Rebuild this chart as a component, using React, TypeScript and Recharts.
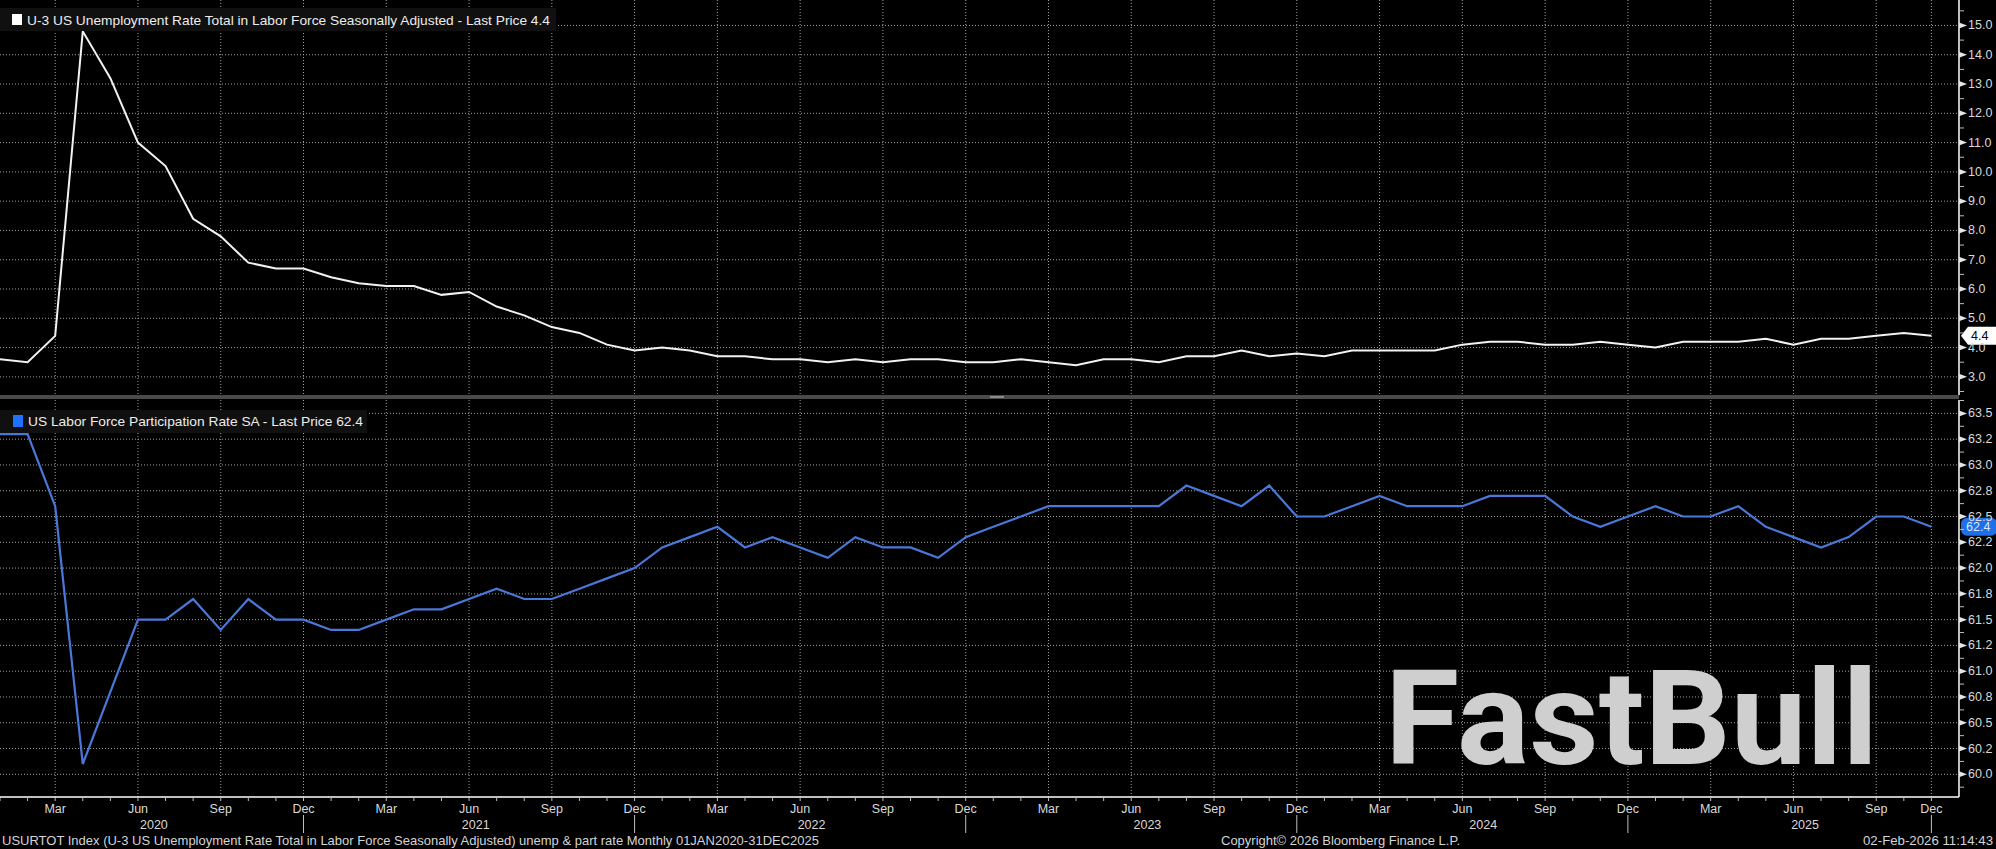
import React from 'react';
import { LineChart, Line, XAxis, YAxis, CartesianGrid, ReferenceLine } from 'recharts';

const monthNames = ['Jan', 'Feb', 'Mar', 'Apr', 'May', 'Jun', 'Jul', 'Aug', 'Sep', 'Oct', 'Nov', 'Dec'];
const years = [2020, 2021, 2022, 2023, 2024, 2025];
// Oct 2025 was never published, the observation axis just skips it
const missingPeriods = ['Oct 2025'];

const periods = years
  .flatMap((y) => monthNames.map((m) => `${m} ${y}`))
  .filter((p) => !missingPeriods.includes(p));

// U-3 unemployment rate, %
const unempRate = [
  3.6, 3.5, 4.4, 14.8, 13.2, 11.0, 10.2, 8.4, 7.8, 6.9, 6.7, 6.7,
  6.4, 6.2, 6.1, 6.1, 5.8, 5.9, 5.4, 5.1, 4.7, 4.5, 4.1, 3.9,
  4.0, 3.9, 3.7, 3.7, 3.6, 3.6, 3.5, 3.6, 3.5, 3.6, 3.6, 3.5,
  3.5, 3.6, 3.5, 3.4, 3.6, 3.6, 3.5, 3.7, 3.7, 3.9, 3.7, 3.8,
  3.7, 3.9, 3.9, 3.9, 3.9, 4.1, 4.2, 4.2, 4.1, 4.1, 4.2, 4.1,
  4.0, 4.2, 4.2, 4.2, 4.3, 4.1, 4.3, 4.3, 4.4, 4.5, 4.4,
];

// labor force participation rate, %
const partRate = [
  63.3, 63.3, 62.6, 60.1, 60.8, 61.5, 61.5, 61.7, 61.4, 61.7, 61.5, 61.5,
  61.4, 61.4, 61.5, 61.6, 61.6, 61.7, 61.8, 61.7, 61.7, 61.8, 61.9, 62.0,
  62.2, 62.3, 62.4, 62.2, 62.3, 62.2, 62.1, 62.3, 62.2, 62.2, 62.1, 62.3,
  62.4, 62.5, 62.6, 62.6, 62.6, 62.6, 62.6, 62.8, 62.7, 62.6, 62.8, 62.5,
  62.5, 62.6, 62.7, 62.6, 62.6, 62.6, 62.7, 62.7, 62.7, 62.5, 62.4, 62.5,
  62.6, 62.5, 62.5, 62.6, 62.4, 62.3, 62.2, 62.3, 62.5, 62.5, 62.4,
];

const unempTicks = [3, 4, 5, 6, 7, 8, 9, 10, 11, 12, 13, 14, 15];
const unempTickLabels = ['3.0', '4.0', '5.0', '6.0', '7.0', '8.0', '9.0', '10.0', '11.0', '12.0', '13.0', '14.0', '15.0'];
const partTicks = [60, 60.25, 60.5, 60.75, 61, 61.25, 61.5, 61.75, 62, 62.25, 62.5, 62.75, 63, 63.25, 63.5];
const partTickLabels = ['60.0', '60.2', '60.5', '60.8', '61.0', '61.2', '61.5', '61.8', '62.0', '62.2', '62.5', '62.8', '63.0', '63.2', '63.5'];

const data = periods.map((p, i) => ({ i, period: p, unemp: unempRate[i], part: partRate[i] }));

const quarterIdx = periods.map((p, i) => (['Mar', 'Jun', 'Sep', 'Dec'].includes(p.slice(0, 3)) ? i : -1)).filter((i) => i >= 0);
const decIdx = periods.map((p, i) => (p.startsWith('Dec') ? i : -1)).filter((i) => i >= 0);
const yearPos = years.map((_, k) => ((k === 0 ? 0 : decIdx[k - 1]) + decIdx[k]) / 2);
const monthIdx = periods.map((_, i) => i);

const halfSteps = (ticks: number[]) => {
  const step = ticks[1] - ticks[0];
  return [ticks[0] - step / 2, ...ticks.map((t) => t + step / 2)];
};

const FONT = "'Liberation Sans', Arial, sans-serif";
const AXIS_W = 37;
const X_DOMAIN = [0, periods.length];

function PriceTick({ x, y, payload, majors, labels }: any) {
  const k = majors.indexOf(payload.value);
  if (k < 0) {
    return <line x1={x} y1={y} x2={x + 5} y2={y} stroke="#bdbdbd" strokeWidth={1} />;
  }
  return (
    <g>
      <polygon points={`${x},${y - 3} ${x + 8},${y} ${x},${y + 3}`} fill="#e6e6e6" />
      <text x={x + 9} y={y} dominantBaseline="central" fontSize={12.5} fill="#d9d9d9" fontFamily={FONT}>
        {labels[k]}
      </text>
    </g>
  );
}

function MonthTick({ x, y, payload }: any) {
  const p = periods[payload.value] || '';
  const m = p.slice(0, 3);
  const showLabel = ['Mar', 'Jun', 'Sep', 'Dec'].includes(m);
  return (
    <g>
      <line x1={x} y1={y} x2={x} y2={y + 4} stroke="#bdbdbd" strokeWidth={1} />
      {showLabel && (
        <text x={x} y={y + 12} textAnchor="middle" dominantBaseline="central" fontSize={12.5} fill="#d9d9d9" fontFamily={FONT}>
          {m}
        </text>
      )}
      {m === 'Dec' && <line x1={x} y1={y + 18} x2={x} y2={y + 36} stroke="#bdbdbd" strokeWidth={1} />}
    </g>
  );
}

function YearTick({ x, y, payload }: any) {
  const k = yearPos.indexOf(payload.value);
  return (
    <text x={x} y={y + 8} textAnchor="middle" dominantBaseline="central" fontSize={12.5} fill="#d9d9d9" fontFamily={FONT}>
      {years[k]}
    </text>
  );
}

function LastTag({ viewBox, text, bg, fg, pointed }: any) {
  const x = viewBox.x + viewBox.width + 2;
  const y = viewBox.y;
  return (
    <g>
      {pointed ? (
        <polygon points={`${x},${y} ${x + 7},${y - 9} ${x + 35},${y - 9} ${x + 35},${y + 9} ${x + 7},${y + 9}`} fill={bg} />
      ) : (
        <rect x={x} y={y - 9} width={36} height={18} rx={6} fill={bg} />
      )}
      <text x={x + (pointed ? 10 : 5)} y={y} dominantBaseline="central" fontSize={12.5} fill={fg} fontFamily={FONT}>
        {text}
      </text>
    </g>
  );
}

export default function App() {
  const lastUnemp = unempRate[unempRate.length - 1];
  const lastPart = partRate[partRate.length - 1];
  const unempAll = [...halfSteps(unempTicks), ...unempTicks].sort((a, b) => a - b);
  const partAll = [...halfSteps(partTicks), ...partTicks].sort((a, b) => a - b);

  return (
    <div style={{ position: 'absolute', left: 0, top: 0, width: 1996, height: 849, background: '#000', overflow: 'hidden' }}>
      <div style={{ position: 'absolute', left: 0, top: 0 }}>
        <LineChart width={1996} height={395} data={data} margin={{ top: 0, right: 0, bottom: 0, left: 0 }}>
          <CartesianGrid stroke="#a0a0a0" strokeDasharray="1 2" horizontalValues={unempTicks} verticalValues={quarterIdx} />
          <XAxis type="number" dataKey="i" domain={X_DOMAIN} ticks={quarterIdx} hide />
          <YAxis
            orientation="right"
            width={AXIS_W}
            domain={[2.38, 15.87]}
            allowDataOverflow
            ticks={unempAll}
            interval={0}
            tickSize={0}
            tickMargin={0}
            tickLine={false}
            axisLine={{ stroke: '#ffffff', strokeWidth: 1.5 }}
            tick={(p: any) => <PriceTick {...p} majors={unempTicks} labels={unempTickLabels} />}
          />
          <Line type="linear" dataKey="unemp" stroke="#f2f2f2" strokeWidth={2} dot={false} activeDot={false} isAnimationActive={false} />
          <ReferenceLine y={lastUnemp} stroke="none" label={<LastTag text={lastUnemp.toFixed(1)} bg="#ffffff" fg="#000000" pointed />} />
        </LineChart>
      </div>

      <div style={{ position: 'absolute', left: 0, top: 400 }}>
        <LineChart width={1996} height={433} data={data} margin={{ top: 0, right: 0, bottom: 0, left: 0 }}>
          <CartesianGrid stroke="#a0a0a0" strokeDasharray="1 2" horizontalValues={partTicks} verticalValues={quarterIdx} />
          <XAxis
            type="number"
            dataKey="i"
            domain={X_DOMAIN}
            ticks={monthIdx}
            interval={0}
            height={20}
            tickSize={0}
            tickMargin={0}
            tickLine={false}
            axisLine={{ stroke: '#ffffff', strokeWidth: 1.5 }}
            tick={(p: any) => <MonthTick {...p} />}
          />
          <XAxis
            xAxisId="yr"
            type="number"
            domain={X_DOMAIN}
            allowDataOverflow
            ticks={yearPos}
            interval={0}
            height={16}
            tickSize={0}
            tickMargin={0}
            tickLine={false}
            axisLine={false}
            tick={(p: any) => <YearTick {...p} />}
          />
          <YAxis
            orientation="right"
            width={AXIS_W}
            domain={[59.78, 63.63]}
            allowDataOverflow
            ticks={partAll}
            interval={0}
            tickSize={0}
            tickMargin={0}
            tickLine={false}
            axisLine={{ stroke: '#ffffff', strokeWidth: 1.5 }}
            tick={(p: any) => <PriceTick {...p} majors={partTicks} labels={partTickLabels} />}
          />
          <Line type="linear" dataKey="part" stroke="#4a78d9" strokeWidth={2.2} dot={false} activeDot={false} isAnimationActive={false} />
          <ReferenceLine y={lastPart} stroke="none" label={<LastTag text={lastPart.toFixed(1)} bg="#1f6fe6" fg="#d8e9ff" />} />
        </LineChart>
      </div>

      <svg width={1996} height={849} style={{ position: 'absolute', left: 0, top: 0, pointerEvents: 'none' }}>
        <rect x={0} y={395} width={1959} height={4} fill="#4a4a4a" />
        <rect x={990} y={396} width={14} height={2} fill="#8a8a8a" />

        <rect x={0} y={8} width={556} height={23} fill="#101010" />
        <rect x={12} y={14} width={10} height={11} fill="#ffffff" />
        <text x={27} y={20} dominantBaseline="central" fontSize={13} fill="#ececec" fontFamily={FONT} textLength={523} lengthAdjust="spacingAndGlyphs">
          U-3 US Unemployment Rate Total in Labor Force Seasonally Adjusted - Last Price {lastUnemp.toFixed(1)}
        </text>

        <rect x={0} y={410} width={367} height={23} fill="#101010" />
        <rect x={13} y={415} width={10} height={12} fill="#1f72ff" />
        <text x={28} y={421} dominantBaseline="central" fontSize={13} fill="#ececec" fontFamily={FONT} textLength={335} lengthAdjust="spacingAndGlyphs">
          US Labor Force Participation Rate SA - Last Price {lastPart.toFixed(1)}
        </text>

        <text x={1385} y={764} fontSize={132} fontWeight={700} fill="#cfcfcf" fontFamily="Roboto, 'Open Sans', sans-serif" textLength={493} lengthAdjust="spacingAndGlyphs">
          FastBull
        </text>

        <text x={2} y={840} dominantBaseline="central" fontSize={13} fill="#d4d4d4" fontFamily={FONT} textLength={817} lengthAdjust="spacingAndGlyphs">
          USURTOT Index (U-3 US Unemployment Rate Total in Labor Force Seasonally Adjusted) unemp &amp; part rate Monthly 01JAN2020-31DEC2025
        </text>
        <text x={1221} y={840} dominantBaseline="central" fontSize={13} fill="#d4d4d4" fontFamily={FONT} textLength={239} lengthAdjust="spacingAndGlyphs">
          Copyright© 2026 Bloomberg Finance L.P.
        </text>
        <text x={1863} y={840} dominantBaseline="central" fontSize={13} fill="#d4d4d4" fontFamily={FONT} textLength={130} lengthAdjust="spacingAndGlyphs">
          02-Feb-2026 11:14:43
        </text>
      </svg>
    </div>
  );
}
